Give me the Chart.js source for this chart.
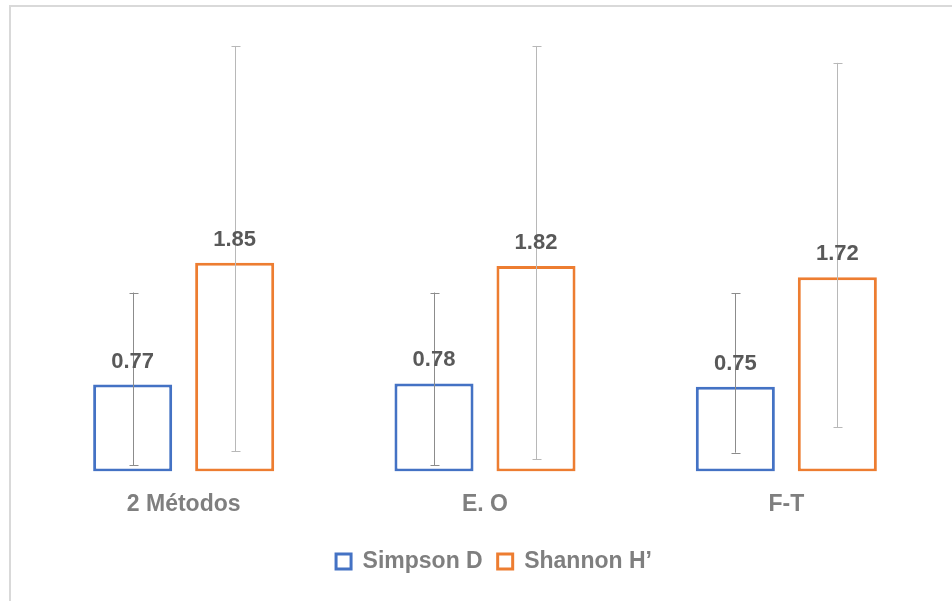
<!DOCTYPE html>
<html>
<head>
<meta charset="utf-8">
<script src="https://cdn.jsdelivr.net/npm/chart.js@4.4.1/dist/chart.umd.min.js"></script>
<style>
    html, body { margin: 0; padding: 0; background: #fff; overflow: hidden; }
    #frame {
        position: absolute; left: 9px; top: 5px;
        width: 980px; height: 640px;
        border: 2px solid #d9d9d9; box-sizing: border-box;
    }
    #wrap { position: absolute; left: 9px; top: 0; width: 970px; height: 601px; }
</style>
</head>
<body>
<div id="frame"></div>
<div id="wrap"><canvas id="bar-chart"></canvas></div>
<script>
const categories = ['2 Métodos', 'E. O', 'F-T'];

const simpson = [0.77, 0.78, 0.75];
const simpsonLow = [0.056, 0.056, 0.166];
const simpsonHigh = [1.585, 1.585, 1.58];

const shannon = [1.85, 1.82, 1.72];
const shannonLow = [0.178, 0.107, 0.39];
const shannonHigh = [3.77, 3.77, 3.62];

const FONT = "'Liberation Sans', Arial, sans-serif";

// draws the error bars and the value labels on top of the bars
const extras = {
    id: 'extras',
    afterLayout(chart) {
        // legend sits a bit right of the plot centre in the original
        chart.legend.left += 9;
        chart.legend.right += 9;
        chart.legend.top -= 2;
        chart.legend.bottom -= 2;
    },
    afterDatasetsDraw(chart) {
        const ctx = chart.ctx;
        const y = chart.scales.y;
        chart.data.datasets.forEach((ds, i) => {
            const meta = chart.getDatasetMeta(i);
            meta.data.forEach((bar, j) => {
                const top = y.getPixelForValue(ds.errHigh[j]);
                const bot = y.getPixelForValue(ds.errLow[j]);
                const x = Math.round(bar.x) + 0.5;
                ctx.save();
                ctx.strokeStyle = ds.errColor;
                ctx.lineWidth = 1;
                ctx.beginPath();
                ctx.moveTo(x, top); ctx.lineTo(x, bot);
                ctx.moveTo(x - 4, Math.round(top) + 0.5); ctx.lineTo(x + 5, Math.round(top) + 0.5);
                ctx.moveTo(x - 4, Math.round(bot) + 0.5); ctx.lineTo(x + 5, Math.round(bot) + 0.5);
                ctx.stroke();
                ctx.restore();
            });
        });
        chart.data.datasets.forEach((ds, i) => {
            const meta = chart.getDatasetMeta(i);
            meta.data.forEach((bar, j) => {
                ctx.save();
                ctx.fillStyle = '#595959';
                ctx.font = 'bold 22px ' + FONT;
                ctx.textAlign = 'center';
                ctx.textBaseline = 'alphabetic';
                ctx.fillText(ds.data[j].toFixed(2), bar.x, bar.y - 17);
                ctx.restore();
            });
        });
    }
};

const ctx = document.getElementById('bar-chart').getContext('2d');
const barChart = new Chart(ctx, {
    type: 'bar',
    data: {
        labels: categories,
        datasets: [
            {
                label: 'Simpson D',
                data: simpson,
                errLow: simpsonLow,
                errHigh: simpsonHigh,
                errColor: '#8c8c8c',
                backgroundColor: '#ffffff',
                borderColor: '#4472c4',
                borderWidth: 3,
                borderSkipped: false
            },
            {
                label: 'Shannon H\u2019',
                data: shannon,
                errLow: shannonLow,
                errHigh: shannonHigh,
                errColor: '#b8b8b8',
                backgroundColor: '#ffffff',
                borderColor: '#ed7d31',
                borderWidth: 3,
                borderSkipped: false
            }
        ]
    },
    options: {
        responsive: true,
        maintainAspectRatio: false,
        animation: false,
        categoryPercentage: 0.677,
        barPercentage: 0.775,
        layout: {
            padding: { left: 24, right: 42, top: 20, bottom: 16 }
        },
        plugins: {
            tooltip: { enabled: false },
            legend: {
                position: 'bottom',
                labels: {
                    boxWidth: 15,
                    boxHeight: 15,
                    padding: 15,
                    color: '#7f7f7f',
                    font: { family: FONT, size: 23, weight: 'bold' }
                }
            }
        },
        scales: {
            x: {
                grid: { display: false, drawTicks: false },
                border: { display: false },
                ticks: {
                    padding: 19,
                    color: '#7f7f7f',
                    font: { family: FONT, size: 23, weight: 'bold' }
                }
            },
            y: {
                display: false,
                min: 0,
                max: 4
            }
        }
    },
    plugins: [extras]
});
</script>
</body>
</html>
